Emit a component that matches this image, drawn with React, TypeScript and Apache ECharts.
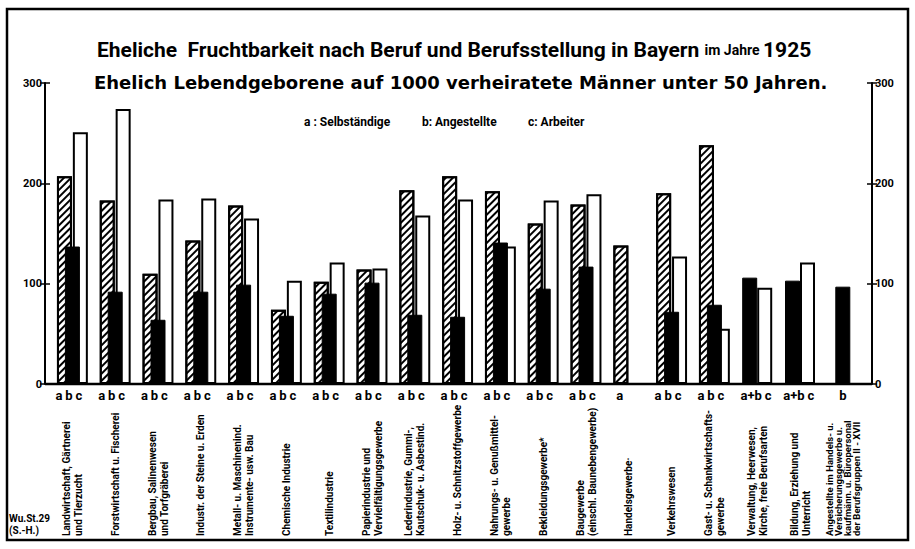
import React, { useEffect, useRef } from "react";
import * as echarts from "echarts";

// ---- data ----
const categories = [
  "Landwirtschaft, Gärtnerei\nund Tierzucht",
  "Forstwirtschaft u. Fischerei",
  "Bergbau, Salinenwesen\nund Torfgräberei",
  "Industr. der Steine u. Erden",
  "Metall- u. Maschinenind.\nInstrumente- usw. Bau",
  "Chemische Industrie",
  "Textilindustrie",
  "Papierindustrie und\nVervielfältigungsgewerbe",
  "Lederindustrie, Gummi-,\nKautschuk- u. Asbestind.",
  "Holz- u. Schnitzstoffgewerbe",
  "Nahrungs- u. Genußmittel-\ngewerbe",
  "Bekleidungsgewerbe*",
  "Baugewerbe\n(einschl. Baunebengewerbe)",
  "Handelsgewerbe·",
  "Verkehrswesen",
  "Gast- u. Schankwirtschafts-\ngewerbe",
  "Verwaltung, Heerwesen,\nKirche, freie Berufsarten",
  "Bildung, Erziehung und\nUnterricht",
  "Angestellte im Handels- u.\nVersicherungsgewerbe u.\nkaufmänn. u. Büropersonal\nder Berufsgruppen II - XVII",
];
// letters under each group: which bars are present
const groupLetters = [
  ["a", "b", "c"], ["a", "b", "c"], ["a", "b", "c"], ["a", "b", "c"], ["a", "b", "c"],
  ["a", "b", "c"], ["a", "b", "c"], ["a", "b", "c"], ["a", "b", "c"], ["a", "b", "c"],
  ["a", "b", "c"], ["a", "b", "c"], ["a", "b", "c"], ["a"], ["a", "b", "c"],
  ["a", "b", "c"], ["a+b", "c"], ["a+b", "c"], ["b"],
];
// a: Selbständige (hatched)
const selbstaendige = [207, 183, 110, 143, 178, 74, 102, 114, 193, 207, 192, 160, 179, 138, 190, 238, null, null, null];
// b: Angestellte (black)
const angestellte = [137, 92, 64, 92, 99, 68, 90, 101, 69, 67, 141, 95, 117, null, 72, 79, null, null, 97];
// c: Arbeiter (white)
const arbeiter = [251, 274, 184, 185, 165, 103, 121, 115, 168, 184, 137, 183, 189, null, 127, 55, null, null, null];
// a+b combined (black) and c for those groups
const selbstUndAngest = [null, null, null, null, null, null, null, null, null, null, null, null, null, null, null, null, 106, 103, null];
const arbeiterAB = [null, null, null, null, null, null, null, null, null, null, null, null, null, null, null, null, 96, 121, null];
const yTicks = { min: 0, max: 300, interval: 100 };

const NARROW = "Roboto, 'Liberation Sans', sans-serif";
const WIDE = "'DejaVu Sans', 'Noto Sans', sans-serif";

const GRID_LEFT = 51;
const BAND = 42.8;
const GRID_WIDTH = BAND * categories.length;
const GRID_TOP = 83;
const GRID_HEIGHT = 301;
const LEFT_AXIS_X = 45;
const RIGHT_AXIS_X = 872;

export default function App() {
  const ref = useRef<HTMLDivElement>(null);
  useEffect(() => {
    if (!ref.current) return;
    const chart = echarts.init(ref.current, undefined, { renderer: "svg" });
    const hatched = {
      color: "#fff",
      borderColor: "#000",
      borderWidth: 2,
      decal: {
        symbol: "rect",
        symbolSize: 1,
        color: "#000",
        dashArrayX: [1, 0],
        dashArrayY: [1.2, 2.3],
        rotation: -Math.PI / 4,
      },
    };
    const white = { color: "#fff", borderColor: "#000", borderWidth: 2 };
    const black = { color: "#000", borderColor: "#000", borderWidth: 1 };
    const gridBottomY = GRID_TOP + GRID_HEIGHT;
    const baseY = (side: "left" | "right", inside: boolean, labels: boolean) => ({
      type: "value",
      position: side,
      offset: side === "left" ? GRID_LEFT - LEFT_AXIS_X : RIGHT_AXIS_X - (GRID_LEFT + GRID_WIDTH),
      ...yTicks,
      axisLine: { show: !inside, lineStyle: { color: "#000", width: 2 } },
      axisTick: { show: true, inside, length: 5, lineStyle: { color: "#000", width: 1.5 } },
      axisLabel: {
        show: labels,
        color: "#000",
        fontFamily: NARROW,
        fontWeight: "bold",
        fontSize: 11,
        margin: 3,
      },
      splitLine: { show: false },
    });
    const legendStyle = { fontFamily: NARROW, fontWeight: "bold", fontSize: 12, color: "#000" };
    const lt = { fontFamily: NARROW, fontWeight: "bold", fontSize: 13, color: "#000" };
    const letterRich = {
      w: { ...lt, width: 10, align: "center" },
      w2: { ...lt, width: 22, align: "center" },
      w3: { ...lt, width: 12, align: "center" },
      e: { ...lt, width: 7, align: "center" },
      sh: { ...lt, width: 9, align: "center" },
      sp: { ...lt, width: 18, align: "center" },
    };
    const letterLabel = (i: number) => {
      const g = groupLetters[i];
      if (g.length === 3) return g.map((l) => `{w|${l}}`).join("") + "{e| }";
      if (g.length === 2) return `{w2|${g[0]}}{w3|${g[1]}}`;
      if (g[0] === "a") return `{sh|a}{sp| }`;
      return `{w|${g[0]}}`;
    };
    chart.setOption({
      animation: false,
      backgroundColor: "#fff",
      title: [
        {
          text: "{a|Eheliche  Fruchtbarkeit nach Beruf und Berufsstellung in Bayern }{b|im Jahre }{a|1925}",
          left: 92,
          top: 34,
          textStyle: {
            rich: {
              a: { fontFamily: NARROW, fontWeight: "bold", fontSize: 21, color: "#000" },
              b: { fontFamily: NARROW, fontWeight: "bold", fontSize: 14, color: "#000" },
            },
          },
        },
        {
          text: "Ehelich Lebendgeborene auf 1000 verheiratete Männer unter 50 Jahren.",
          left: 89,
          top: 68,
          textStyle: { fontFamily: WIDE, fontWeight: "bold", fontSize: 18, color: "#000" },
        },
        { text: "a : Selbständige", left: 299, top: 111, textStyle: legendStyle },
        { text: "b: Angestellte", left: 417, top: 111, textStyle: legendStyle },
        { text: "c: Arbeiter", left: 523, top: 111, textStyle: legendStyle },
      ],
      grid: { left: GRID_LEFT, top: GRID_TOP, width: GRID_WIDTH, height: GRID_HEIGHT, containLabel: false },
      xAxis: [
        {
          type: "category",
          position: "bottom",
          data: categories,
          axisLine: { show: false },
          axisTick: { show: false },
          axisLabel: {
            interval: 0,
            rotate: 90,
            align: "left",
            verticalAlign: "middle",
            margin: 152,
            color: "#000",
            fontFamily: NARROW,
            fontWeight: "bold",
            fontSize: 10,
            lineHeight: 12,
            hideOverlap: false,
            formatter: (v: string, i: number) =>
              i === categories.length - 1 ? v.split("\n").map((l) => `{s|${l}}`).join("\n") : v,
            rich: { s: { fontFamily: NARROW, fontWeight: "bold", fontSize: 9.5, lineHeight: 9, color: "#000" } },
          },
        },
        {
          type: "category",
          position: "bottom",
          data: categories,
          axisLine: { show: false },
          axisTick: { show: false },
          axisLabel: {
            interval: 0,
            margin: 5,
            color: "#000",
            fontFamily: NARROW,
            fontWeight: "bold",
            fontSize: 13,
            formatter: (_v: string, i: number) => letterLabel(i),
            rich: letterRich,
          },
        },
      ],
      yAxis: [baseY("left", false, true), baseY("left", true, false), baseY("right", false, true), baseY("right", true, false)],
      series: [
        { name: "a: Selbständige", type: "bar", xAxisIndex: 0, yAxisIndex: 0, data: selbstaendige, barWidth: 15, barGap: "-47%", itemStyle: hatched, z: 2 },
        { name: "b: Angestellte", type: "bar", xAxisIndex: 0, yAxisIndex: 0, data: angestellte, barWidth: 15, barGap: "-47%", itemStyle: black, z: 4 },
        { name: "c: Arbeiter", type: "bar", xAxisIndex: 0, yAxisIndex: 0, data: arbeiter, barWidth: 15, barGap: "-47%", itemStyle: white, z: 3 },
        { name: "a+b", type: "bar", xAxisIndex: 1, yAxisIndex: 0, data: selbstUndAngest, barWidth: 15, barGap: "0%", itemStyle: black, z: 4 },
        { name: "c", type: "bar", xAxisIndex: 1, yAxisIndex: 0, data: arbeiterAB, barWidth: 15, barGap: "0%", itemStyle: white, z: 3 },
      ],
      graphic: [
        { type: "rect", shape: { x: 7, y: 9, width: 901, height: 531 }, style: { fill: "none", stroke: "#000", lineWidth: 2.5 }, z: 10 },
        { type: "line", shape: { x1: LEFT_AXIS_X, y1: gridBottomY, x2: RIGHT_AXIS_X, y2: gridBottomY }, style: { stroke: "#000", lineWidth: 2.5 }, z: 10 },
        { type: "text", left: 9, top: 512, style: { text: "Wu.St.29\n(S.-H.)", fontFamily: NARROW, fontWeight: "bold", fontSize: 10, lineHeight: 12, fill: "#000" } },
      ],
    });
    return () => chart.dispose();
  }, []);
  return <div ref={ref} style={{ position: "fixed", left: 0, top: 0, width: 915, height: 549, background: "#fff" }} />;
}
